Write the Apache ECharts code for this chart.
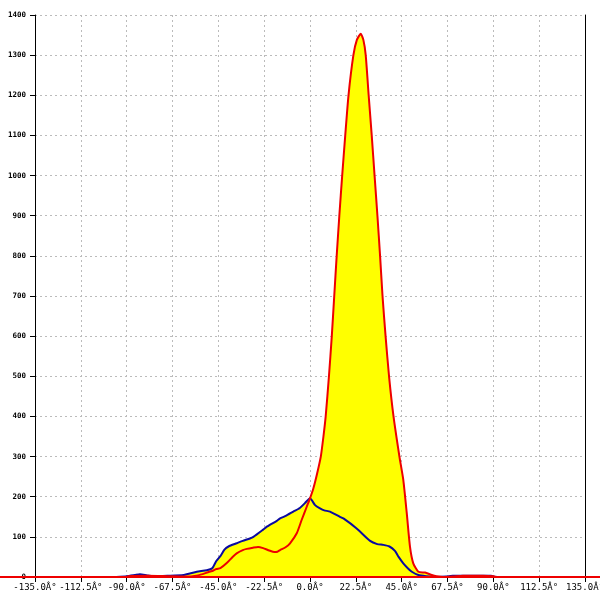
<!DOCTYPE html>
<html><head><meta charset="utf-8">
<script src="https://cdn.jsdelivr.net/npm/echarts@6/dist/echarts.min.js"></script>
<style>html,body{margin:0;padding:0;background:#fff}#c{width:600px;height:600px}</style>
</head><body><div id="c"></div>
<script>
// angle (deg) / value pairs
const redAngles = [-90,-89,-80,-70,-62,-55,-50,-48,-46,-44,-41,-38,-36,-33,-31,-28,-25.5,-23,-20,-17.5,-16,-14.7,-12,-9.8,-6.5,-4.1,-1.6,0,1.6,3.5,5.3,6.6,7.7,9.3,10.7,11.9,13.1,14.4,15.8,17.3,18.9,21.3,23,24.9,26.2,27.35,28.8,30.3,31.7,33.1,34.4,35.6,37.1,38.8,41.0,43.9,45.8,47.5,49.1,50.7,53.2,56.5,59.8,62.2,65.3,70,75,85,90,91];
const redValues = [0,2,3,2,1,4,12,15,20,22,34,50,59,67,70,73,75,72,66,62,63,67,74,84,109,142,175,196,220,258,300,350,400,500,600,700,800,900,1000,1100,1200,1300,1338,1353,1338,1300,1200,1100,1000,900,800,700,600,500,400,300,242,159,75,34,13,11,5,2,0,1,3,3,2,0];
const blueAngles = [-95,-90,-86,-83.5,-80,-77,-70,-62,-55.6,-50.7,-48,-46,-44,-42,-40,-36,-33,-29.5,-27.8,-23,-21,-16.3,-14.7,-12,-8.2,-5,-2.5,0,2.5,4.9,7,9.8,14.7,16.4,22.9,29.5,33,36,39,41.7,43.5,45.8,48,50,53.2,57,62,67,70,80,89,90,92];
const blueValues = [0,2,5,7,4,2,3,5,13,17,22,40,52,68,76,84,90,96,100,118,126,140,146,152,163,172,184,196,179,171,166,163,150,146,121,90,82,80,76,65,50,34,22,13,5,2,0,1,3,3,3,1,0];
const baselineX = [0,1];
const baselineY = [0,0];
const yTicks = [0,100,200,300,400,500,600,700,800,900,1000,1100,1200,1300,1400];
const xTicks = [-135,-112.5,-90,-67.5,-45,-22.5,0,22.5,45,67.5,90,112.5,135];
const xTickLabels = ['-135.0Â°','-112.5Â°','-90.0Â°','-67.5Â°','-45.0Â°','-22.5Â°','0.0Â°','22.5Â°','45.0Â°','67.5Â°','90.0Â°','112.5Â°','135.0Â°'];

const red = redAngles.map((a,i)=>[a,redValues[i]]);
const blue = blueAngles.map((a,i)=>[a,blueValues[i]]);
const baseline = baselineX.map((a,i)=>[a,baselineY[i]]);
const font = '"DejaVu Sans Mono", monospace';
const grid = {color:'#bbb',type:[2,3],width:1};
const chart = echarts.init(document.getElementById('c'));
chart.setOption({
  animation:false,
  backgroundColor:'#fff',
  grid:[{left:35,right:15,top:15,bottom:23,outerBoundsMode:'none',containLabel:false},
        {left:0,right:0,top:15,bottom:23,outerBoundsMode:'none',containLabel:false}],
  xAxis:[{type:'value',gridIndex:0,min:xTicks[0],max:xTicks[xTicks.length-1],interval:22.5,
    axisLine:{onZero:false,lineStyle:{color:'#000',width:1}},
    axisTick:{show:true,length:5,lineStyle:{color:'#000'}},
    axisLabel:{color:'#000',fontFamily:font,fontSize:9,margin:6,showMinLabel:true,showMaxLabel:true,hideOverlap:false,
      formatter:v=>{const i=xTicks.indexOf(v);return i>=0?xTickLabels[i]:'';}},
    splitLine:{show:true,lineStyle:grid}},
    {type:'value',gridIndex:1,min:0,max:1,show:false}],
  yAxis:[{type:'value',gridIndex:0,min:yTicks[0],max:yTicks[yTicks.length-1],interval:100,
    axisLine:{show:true,onZero:false,lineStyle:{color:'#000',width:1}},
    axisTick:{show:true,length:5,lineStyle:{color:'#000'}},
    axisLabel:{color:'#000',fontFamily:font,fontSize:7.5,margin:9,fontWeight:'bold',formatter:v=>String(v)},
    splitLine:{show:true,lineStyle:grid}},
    {type:'value',gridIndex:0,position:'right',min:0,max:1400,interval:100,
     axisLine:{show:true,onZero:false,lineStyle:{color:'#000',width:1}},axisTick:{show:false},axisLabel:{show:false},splitLine:{show:false}},
    {type:'value',gridIndex:1,min:0,max:1400,show:false}],
  series:[
    {type:'line',data:red,smooth:0.2,symbol:'none',lineStyle:{width:0},areaStyle:{color:'#ffff00',opacity:1},z:1},
    {type:'line',data:blue,smooth:0.2,symbol:'none',lineStyle:{width:0},areaStyle:{color:'#ffff00',opacity:1},z:1},
    {type:'line',data:blue,smooth:0.2,symbol:'none',lineStyle:{width:2,color:'#0a0aa0'},z:3},
    {type:'line',xAxisIndex:1,yAxisIndex:2,data:baseline,symbol:'none',lineStyle:{width:2,color:'#ee0000'},z:4},
    {type:'line',data:red,smooth:0.2,symbol:'none',lineStyle:{width:2,color:'#ee0000'},z:5}
  ]
});
</script></body></html>
